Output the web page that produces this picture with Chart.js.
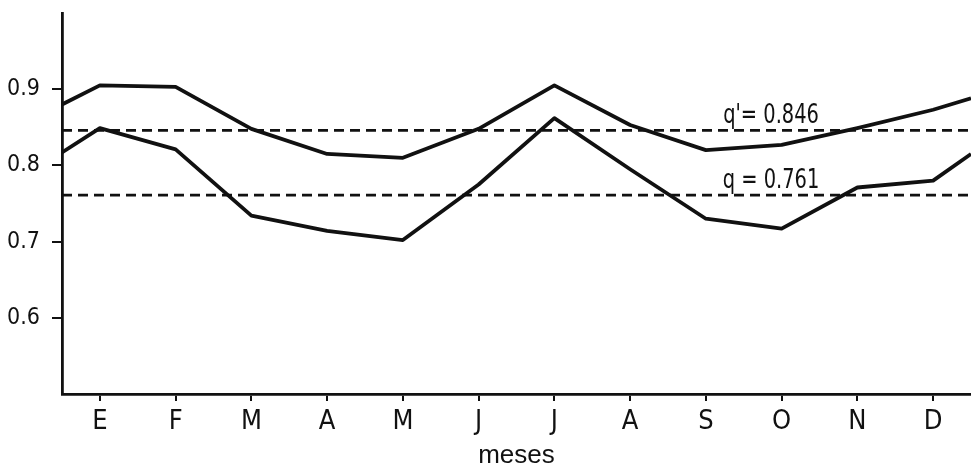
<!DOCTYPE html>
<html>
<head>
<meta charset="utf-8">
<script src="https://cdn.jsdelivr.net/npm/chart.js@4/dist/chart.umd.min.js"></script>
<style>
  html, body { margin: 0; padding: 0; background: #ffffff; }
  #wrap { width: 971px; height: 470px; position: relative; }
</style>
</head>
<body>
<div id="wrap"><canvas id="c" width="971" height="470"></canvas></div>
<script>
// ---- data ----
const months = ['E', 'F', 'M', 'A', 'M', 'J', 'J', 'A', 'S', 'O', 'N', 'D'];
// upper curve (q')
const qPrimeValues = [0.905, 0.903, 0.848, 0.815, 0.810, 0.848, 0.905, 0.853, 0.820, 0.827, 0.849, 0.873];
const qPrimeEdges = [0.880, 0.888];   // value at left and right border of the plot
// lower curve (q)
const qValues = [0.849, 0.821, 0.734, 0.714, 0.702, 0.775, 0.862, 0.795, 0.730, 0.717, 0.771, 0.780];
const qEdges = [0.817, 0.815];
// mean lines
const qPrimeMean = 0.846;
const qMean = 0.761;
const meanLabels = ["q'= 0.846", "q = 0.761"];
const yTicks = [0.6, 0.7, 0.8, 0.9];
const yMin = 0.5, yMax = 1.0;
const xTitle = 'meses';

// ---- build series ----
const xLo = -0.5, xHi = months.length - 0.5;
function series(vals, edges) {
  const pts = [{x: xLo, y: edges[0]}];
  vals.forEach((v, i) => pts.push({x: i, y: v}));
  pts.push({x: xHi, y: edges[1]});
  return pts;
}
function flat(v) { return [{x: xLo, y: v}, {x: xHi, y: v}]; }

const INK = '#111111';
const FONT = "'DejaVu Sans Condensed', 'DejaVu Sans', sans-serif";

const meanLabelPlugin = {
  id: 'meanLabels',
  afterDatasetsDraw(chart) {
    const ctx = chart.ctx;
    const xs = chart.scales.x, ys = chart.scales.y;
    const cx = xs.getPixelForValue(8.86);
    [[meanLabels[0], qPrimeMean], [meanLabels[1], qMean]].forEach(([txt, v]) => {
      ctx.save();
      ctx.fillStyle = INK;
      ctx.font = "27px " + FONT;
      ctx.textAlign = 'center';
      ctx.textBaseline = 'alphabetic';
      ctx.translate(cx, ys.getPixelForValue(v) - 7);
      ctx.scale(0.8, 1);
      ctx.fillText(txt, 0, 0);
      ctx.restore();
    });
  }
};

new Chart(document.getElementById('c'), {
  type: 'line',
  data: {
    datasets: [
      { data: series(qPrimeValues, qPrimeEdges), borderColor: INK, borderWidth: 3.8, pointRadius: 0, tension: 0, fill: false, borderJoinStyle: 'round' },
      { data: series(qValues, qEdges), borderColor: INK, borderWidth: 3.8, pointRadius: 0, tension: 0, fill: false, borderJoinStyle: 'round' },
      { data: flat(qPrimeMean), borderColor: INK, borderWidth: 2.6, borderDash: [10, 6], pointRadius: 0, fill: false },
      { data: flat(qMean), borderColor: INK, borderWidth: 2.6, borderDash: [10, 6], pointRadius: 0, fill: false }
    ]
  },
  options: {
    responsive: false,
    animation: false,
    events: [],
    layout: { padding: { top: 13, left: 0, right: 0, bottom: 0 } },
    plugins: { legend: { display: false }, tooltip: { enabled: false } },
    scales: {
      x: {
        type: 'linear',
        min: xLo, max: xHi,
        afterBuildTicks(scale) { scale.ticks = months.map((m, i) => ({ value: i })); },
        afterFit(scale) { scale.height = 76; scale.paddingLeft = 0; scale.paddingRight = 0; },
        ticks: {
          autoSkip: false,
          maxRotation: 0,
          color: INK,
          font: { family: FONT, size: 27 },
          padding: 5,
          callback: (v) => months[Math.round(v)] ?? ''
        },
        grid: { drawOnChartArea: false, drawTicks: true, tickLength: 7, color: INK, lineWidth: 2 },
        border: { display: true, color: INK, width: 2.8 },
        title: {
          display: true, text: xTitle, color: INK,
          font: { family: "'Liberation Sans', sans-serif", size: 26, lineHeight: 1.1 },
          padding: { top: 0, bottom: 0 }
        }
      },
      y: {
        min: yMin, max: yMax,
        afterBuildTicks(scale) { scale.ticks = yTicks.map(v => ({ value: v })); },
        afterFit(scale) { scale.width = 62; scale.paddingTop = 0; scale.paddingBottom = 0; },
        ticks: {
          color: INK,
          font: { family: FONT, size: 23 },
          padding: 12,
          callback: (v) => v.toFixed(1)
        },
        grid: { drawOnChartArea: false, drawTicks: true, tickLength: 10, color: INK, lineWidth: 2 },
        border: { display: true, color: INK, width: 2.8 }
      }
    }
  },
  plugins: [meanLabelPlugin]
});
</script>
</body>
</html>
